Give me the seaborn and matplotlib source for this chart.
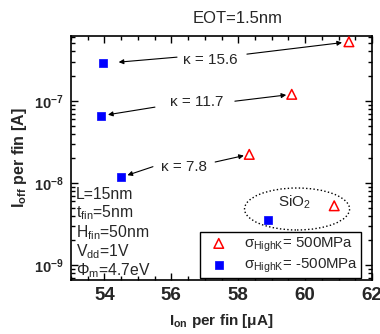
import numpy as np
import matplotlib
matplotlib.use("Agg")
import matplotlib.pyplot as plt
import seaborn as sns
from matplotlib.patches import Ellipse
from matplotlib.ticker import MultipleLocator, LogLocator, NullFormatter

# ---------------------------------------------------------------
# DATA
# ---------------------------------------------------------------
GATE_LABELS = ["15.6", "11.7", "7.8", "SiO2"]
ION_TENSILE = [61.31, 59.60, 58.33, 60.87]        # sigma_HighK = 500MPa
IOFF_TENSILE = [5.23e-7, 1.20e-7, 2.23e-8, 5.28e-9]
ION_COMPRESS = [53.97, 53.90, 54.49, 58.88]       # sigma_HighK = -500MPa
IOFF_COMPRESS = [2.85e-7, 6.57e-8, 1.17e-8, 3.54e-9]

X_TICKS = [54, 56, 58, 60, 62]
Y_TICKS = [1e-9, 1e-8, 1e-7]
Y_TICK_LABELS = [r"$\mathbf{10^{-9}}$", r"$\mathbf{10^{-8}}$", r"$\mathbf{10^{-7}}$"]

DEVICE_INFO = ["L=15nm", r"t$_{fin}$=5nm", r"H$_{fin}$=50nm", r"V$_{dd}$=1V", r"Φ$_{m}$=4.7eV"]

# kappa label positions and arrow tails (data coords)
KAPPA_TEXT_POS = [(57.16, 3.13e-7), (56.77, 9.64e-8), (56.38, 1.56e-8)]
TAIL_TO_COMPRESS = [(56.17, 3.40e-7), (55.51, 8.38e-8), (55.45, 1.58e-8)]
TAIL_TO_TENSILE = [(58.26, 3.70e-7), (57.90, 9.90e-8), (57.31, 1.80e-8)]
SHRINK_COMPRESS = [11, 5, 5]
SHRINK_TENSILE = [5, 4, 4]

RED = "#ff0000"
BLUE = "#0000ff"

sns.set_theme(style="ticks")
plt.rcParams["font.family"] = ["Liberation Sans", "DejaVu Sans"]
plt.rcParams["mathtext.fontset"] = "custom"
plt.rcParams["mathtext.rm"] = "Liberation Sans"
plt.rcParams["mathtext.it"] = "Liberation Sans:italic"
plt.rcParams["mathtext.bf"] = "Liberation Sans:bold"
plt.rcParams["mathtext.default"] = "regular"

fig = plt.figure(figsize=(3.8, 3.34), dpi=100)
ax = fig.add_axes([71 / 380, 54 / 334, 301 / 380, 244 / 334])

sns.scatterplot(x=ION_TENSILE, y=IOFF_TENSILE, marker="^", s=48, facecolor="none",
                edgecolor=RED, linewidth=1.1, ax=ax, zorder=4,
                label=r"$\sigma_{HighK}$= 500MPa")
sns.scatterplot(x=ION_COMPRESS, y=IOFF_COMPRESS, marker="s", s=30, color=BLUE,
                edgecolor=BLUE, linewidth=0.5, ax=ax, zorder=4,
                label=r"$\sigma_{HighK}$= -500MPa")

ax.set_yscale("log")
ax.set_xlim(53, 62)
ax.set_ylim(6.6e-10, 6.15e-7)

ax.set_xticks(X_TICKS)
ax.set_xticklabels([str(t) for t in X_TICKS], fontsize=13.5, fontweight="bold")
ax.xaxis.set_minor_locator(MultipleLocator(0.5))
ax.set_yticks(Y_TICKS)
ax.set_yticklabels(Y_TICK_LABELS, fontsize=10.5)
ax.yaxis.set_minor_locator(LogLocator(base=10, subs=np.arange(2, 10)))
ax.yaxis.set_minor_formatter(NullFormatter())

ax.tick_params(which="both", direction="in", top=True, right=True, width=1, color="black")
ax.tick_params(which="major", length=5, pad=5)
ax.tick_params(which="minor", length=3)
for sp in ax.spines.values():
    sp.set_linewidth(1.2)
    sp.set_color("black")

ax.set_xlabel(r"$\mathbf{I_{on}}$ per fin [μA]", fontsize=11, fontweight="bold", labelpad=6)
ax.set_ylabel(r"$\mathbf{I_{off}}$ per fin [A]", fontsize=11.5, fontweight="bold", labelpad=4)

# kappa labels with arrows to both stress cases
for i in range(3):
    ax.text(*KAPPA_TEXT_POS[i], f"κ = {GATE_LABELS[i]}", fontsize=11, ha="center", va="center")
    ax.annotate("", xy=(ION_COMPRESS[i], IOFF_COMPRESS[i]), xytext=TAIL_TO_COMPRESS[i],
                arrowprops=dict(arrowstyle="-|>", color="black", lw=0.8,
                                shrinkA=0, shrinkB=SHRINK_COMPRESS[i], mutation_scale=7))
    ax.annotate("", xy=(ION_TENSILE[i], IOFF_TENSILE[i]), xytext=TAIL_TO_TENSILE[i],
                arrowprops=dict(arrowstyle="-|>", color="black", lw=0.8,
                                shrinkA=0, shrinkB=SHRINK_TENSILE[i], mutation_scale=7))

# SiO2 group
ax.add_patch(Ellipse((0.751, 0.291), 0.349, 0.172, transform=ax.transAxes,
                     fill=False, edgecolor="black", linestyle=":", lw=1, zorder=2))
ax.text(0.741, 0.32, r"SiO$_{2}$", transform=ax.transAxes, fontsize=11,
        ha="center", va="center")

# device info
for j, line in enumerate(DEVICE_INFO):
    ax.text(0.016, 0.352 - j * 0.078, line, transform=ax.transAxes, fontsize=11.3,
            ha="left", va="center")

ax.text(0.553, 1.07, "EOT=1.5nm", transform=ax.transAxes, fontsize=12,
        ha="center", va="center")

leg = ax.legend(loc="lower left", bbox_to_anchor=(0.4286, 0.008), fontsize=10.8,
                frameon=True, fancybox=False, framealpha=1, edgecolor="black",
                borderpad=0.2, labelspacing=0.2, handletextpad=0.6,
                borderaxespad=0, handlelength=2.1)
leg.get_frame().set_linewidth(1)

fig.savefig("out.png", dpi=100)
